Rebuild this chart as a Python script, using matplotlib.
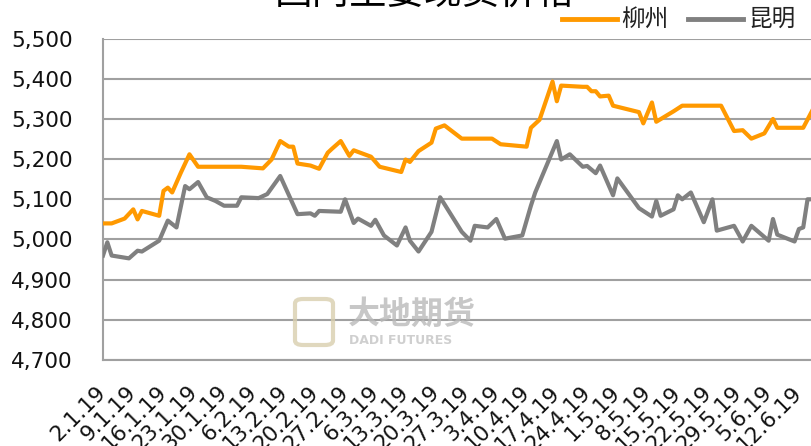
import numpy as np
import pandas as pd
import matplotlib
matplotlib.use("Agg")
import matplotlib.pyplot as plt
from matplotlib.patches import FancyBboxPatch

# =========================
# DATA (day offsets from 2019-01-02)
# =========================
start = pd.Timestamp("2019-01-02")

liuzhou_days = [0, 2, 5, 7, 8, 9, 13, 14, 15, 16, 18, 20, 22, 32, 37, 39, 41, 43, 44, 45,
                48, 50, 52, 53, 55, 57, 58, 62, 64, 69, 70, 71, 73, 76, 77, 79, 83, 90, 92,
                98, 99, 101, 104, 105, 106, 111, 112, 113, 114, 115, 117, 118, 124, 125, 127,
                128, 132, 134, 143, 146, 148, 150, 153, 155, 156, 162, 164]
liuzhou = [5040, 5040, 5052, 5075, 5050, 5071, 5059, 5121, 5129, 5117, 5166, 5212, 5181, 5181,
           5177, 5199, 5245, 5231, 5231, 5189, 5184, 5176, 5216, 5226, 5245, 5208, 5222, 5206,
           5181, 5168, 5199, 5193, 5220, 5241, 5276, 5284, 5251, 5251, 5237, 5231, 5278, 5298,
           5393, 5344, 5383, 5380, 5380, 5369, 5369, 5356, 5358, 5333, 5317, 5289, 5341, 5293,
           5319, 5333, 5333, 5270, 5272, 5251, 5264, 5300, 5278, 5278, 5319]

kunming_days = [0, 1, 2, 6, 8, 9, 13, 15, 17, 19, 20, 22, 24, 26, 28, 31, 32, 36, 38, 41, 45,
                48, 49, 50, 55, 56, 58, 59, 62, 63, 65, 68, 70, 71, 73, 76, 78, 83, 85, 86, 89,
                91, 93, 97, 99, 100, 105, 106, 108, 111, 112, 114, 115, 118, 119, 124, 127,
                128, 129, 132, 133, 134, 136, 139, 141, 142, 146, 148, 150, 154, 155, 156, 160,
                161, 162, 163, 164]
kunming = [4960, 4993, 4960, 4953, 4972, 4970, 4997, 5047, 5030, 5133, 5125, 5143, 5105, 5096,
           5084, 5084, 5105, 5103, 5113, 5158, 5063, 5065, 5059, 5071, 5069, 5100, 5041, 5052,
           5034, 5049, 5010, 4985, 5030, 4997, 4970, 5019, 5105, 5019, 4997, 5034, 5030, 5051,
           5002, 5010, 5084, 5117, 5245, 5199, 5212, 5181, 5183, 5165, 5184, 5110, 5152, 5078,
           5057, 5096, 5059, 5075, 5110, 5100, 5117, 5043, 5100, 5022, 5034, 4995, 5034, 4997,
           5051, 5012, 4995, 5026, 5030, 5100, 5100]

series_names = ["柳州", "昆明"]
title_text = "国内主要现货价格"

# =========================
# FIGURE
# =========================
plt.rcParams["font.family"] = ["DejaVu Sans"]
cjk = ["Noto Sans CJK SC", "DejaVu Sans"]

fig = plt.figure(figsize=(8.11, 4.46), dpi=100)
fig.patch.set_facecolor("white")

ax = fig.add_axes([103 / 811, 1 - 360 / 446, 1 - 103 / 811, (360 - 38.6) / 446])
ax.patch.set_alpha(0)

x_lz = start + pd.to_timedelta(liuzhou_days, unit="D")
x_km = start + pd.to_timedelta(kunming_days, unit="D")

ax.plot(x_lz, liuzhou, color="#FF9900", lw=3.0, solid_joinstyle="round", zorder=3)
ax.plot(x_km, kunming, color="#808080", lw=3.0, solid_joinstyle="round", zorder=3)

ax.set_ylim(4700, 5500)
ax.set_yticks(np.arange(4700, 5501, 100))
ax.set_yticklabels([f"{v:,}" for v in range(4700, 5501, 100)], fontsize=15.5, color="#111111")
ax.yaxis.grid(True, color="#a0a0a0", lw=1.5, zorder=1)

ax.set_xlim(start, start + pd.Timedelta(days=163.8))
ticks = start + pd.to_timedelta(np.arange(0, 162, 7), unit="D")
ax.set_xticks(ticks)
ax.set_xticklabels([f"{d.day}.{d.month}.19" for d in ticks], fontsize=15.5, rotation=45,
                   ha="right", va="center", rotation_mode="anchor", color="#111111")
ax.tick_params(axis="both", length=0)
ax.tick_params(axis="y", pad=22)
ax.tick_params(axis="x", pad=21)

for s in ["top", "right"]:
    ax.spines[s].set_visible(False)
ax.spines["left"].set_color("#a0a0a0")
ax.spines["left"].set_linewidth(1.5)
ax.spines["bottom"].set_color("#a0a0a0")
ax.spines["bottom"].set_linewidth(1.5)

# logo watermark
fig.text(348 / 811, 1 - 315 / 446, "大地期货", family=cjk, fontsize=23, fontweight="bold",
         color="#b9b9b9", va="center", ha="left", alpha=0.8, zorder=2)
fig.text(349 / 811, 1 - 341 / 446, "DADI FUTURES", fontsize=9, fontweight="bold",
         color="#c4c4c4", va="center", ha="left", alpha=0.8, zorder=2)
fig.patches.append(FancyBboxPatch((295 / 811, 1 - 345 / 446), 38 / 811, 46 / 446,
                                  boxstyle="round,pad=0,rounding_size=0.01",
                                  transform=fig.transFigure, facecolor="none",
                                  edgecolor="#d9cfae", lw=3, alpha=0.8, zorder=2))

# title (cut off at top, as in the source)
fig.text(425 / 811, 1 - 5 / 446, title_text, family=cjk, fontsize=27, color="black",
         ha="center", va="baseline")

# legend
for (x0, x1, tx, name, col) in [(562, 617, 621, series_names[0], "#FF9900"),
                                (688, 743, 748, series_names[1], "#808080")]:
    fig.add_artist(plt.Line2D([x0 / 811, x1 / 811], [1 - 19 / 446] * 2, color=col, lw=3.5,
                              transform=fig.transFigure))
    fig.text(tx / 811, 1 - 19 / 446, name, family=cjk, fontsize=17, color="#222222",
             ha="left", va="center")

fig.savefig("out.png", dpi=100)
